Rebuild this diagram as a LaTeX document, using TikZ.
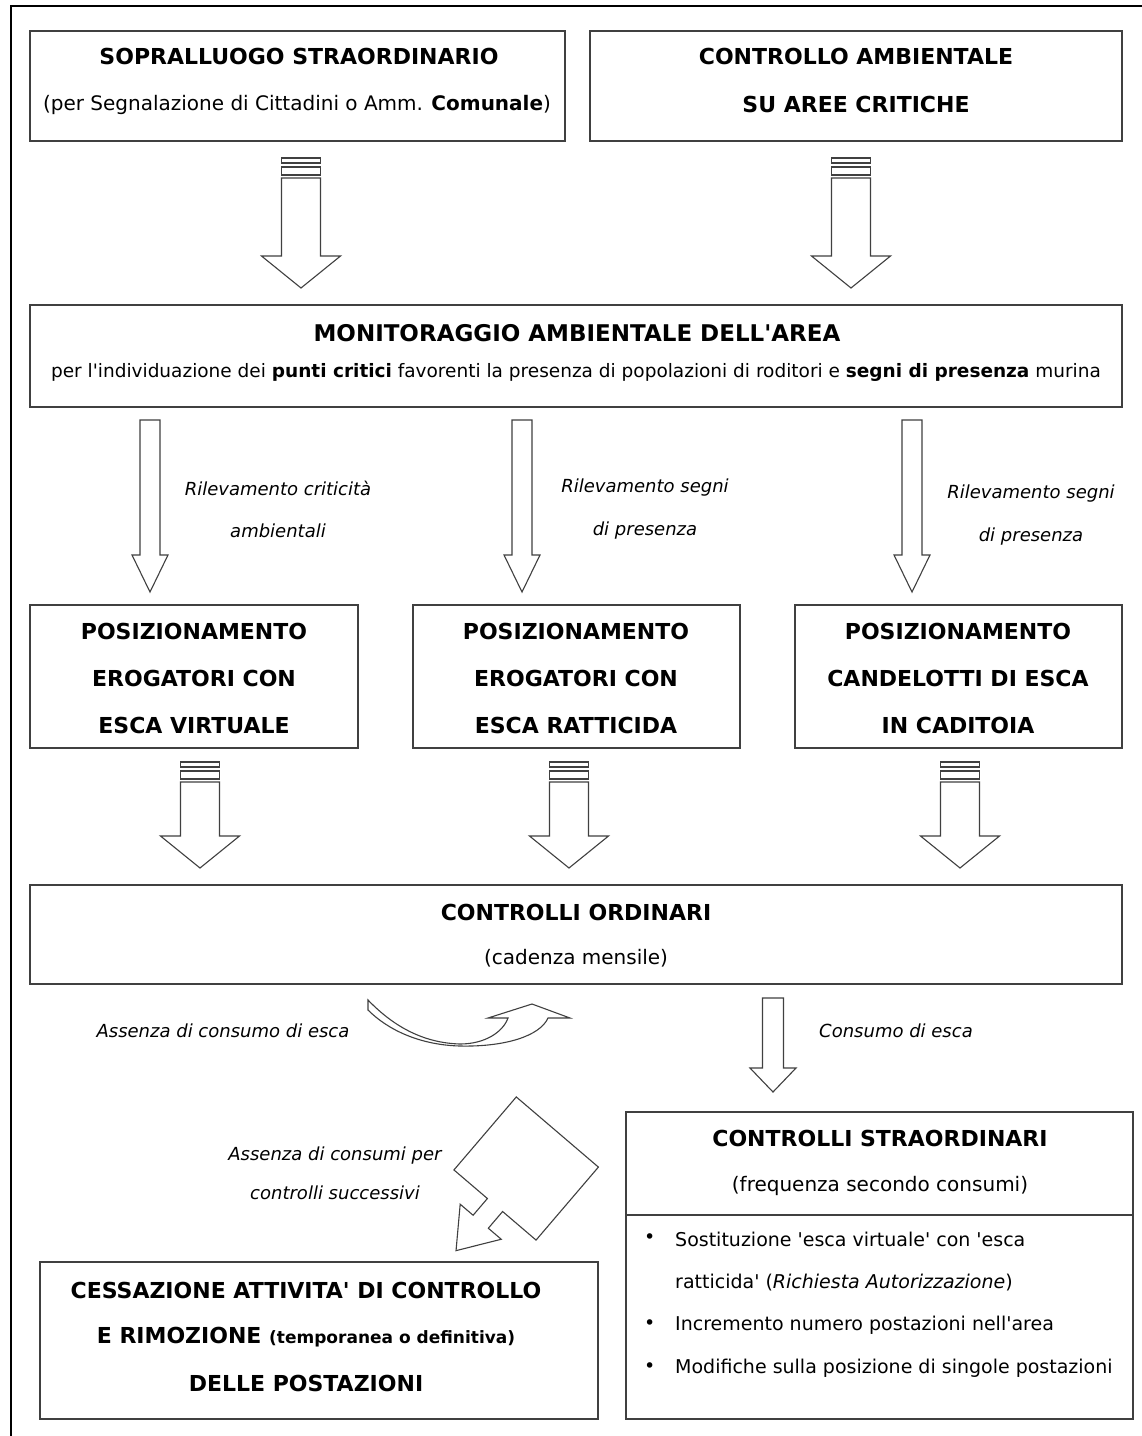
\documentclass[tikz,border=0pt]{standalone}
\usepackage{fontspec}
\setmainfont{DejaVu Sans}
\usetikzlibrary{fit}
\newcommand\sq{\textquotesingle}
\newcommand\StripedArrow[4]{% name, cx, stripe top, tip
  \draw[barrow] ({#2-19.5},{#3}) rectangle ({#2+19.5},{#3+5});
  \draw[barrow] ({#2-19.5},{#3+9}) rectangle ({#2+19.5},{#3+17});
  \draw[barrow] ({#2-19.5},{#3+20}) -- ({#2+19.5},{#3+20}) -- ({#2+19.5},{#4-32})
    -- ({#2+39.5},{#4-32}) -- ({#2},{#4}) coordinate (#1) -- ({#2-39.5},{#4-32})
    -- ({#2-19.5},{#4-32}) -- cycle;}
\newcommand\PlainArrow[7]{% name, cx, top, base, tip, shaft half, head half
  \draw[barrow] ({#2-#6},{#3}) -- ({#2+#6},{#3}) -- ({#2+#6},{#4})
    -- ({#2+#7},{#4}) -- ({#2},{#5}) coordinate (#1) -- ({#2-#7},{#4})
    -- ({#2-#6},{#4}) -- cycle;}
\begin{document}
\begin{tikzpicture}[x=1pt,y=-1pt,
  box/.style={draw=black!75, line width=1.6pt, inner sep=0pt},
  barrow/.style={draw=black!75, line width=1.1pt, fill=white, line join=miter},
  ttl/.style={font=\fontsize{22}{26}\selectfont\bfseries, inner sep=0pt, anchor=center},
  sub/.style={font=\fontsize{20}{24}\selectfont, inner sep=0pt},
  lbl/.style={font=\fontsize{18}{22}\selectfont\itshape, inner sep=0pt},
  itm/.style={font=\fontsize{19}{23}\selectfont, inner sep=0pt, anchor=west},
]
\useasboundingbox (0,0) rectangle (1142,1436);
\fill[white] (0,0) rectangle (1142,1436);
\draw[line width=1.3pt] (11,1436) -- (11,6) -- (1142,6);

% top boxes
\node[box, fit={(30,31) (565,141)}] (b1) {};
\node[ttl] (b1a) at (299,56) {SOPRALLUOGO STRAORDINARIO};
\node[sub] (b1b) at (297,105) {(per Segnalazione di Cittadini o Amm. \textbf{Comunale})};
\node[box, fit={(590,31) (1122,141)}] (b2) {};
\node[ttl] (b2a) at (856,56) {CONTROLLO AMBIENTALE};
\node[ttl] (b2b) at (856,104) {SU AREE CRITICHE};

\StripedArrow{t1}{301}{158}{288}
\StripedArrow{t2}{851}{158}{288}

% monitoraggio
\node[box, fit={(30,305) (1122,407)}] (b3) {};
\node[ttl, font=\fontsize{23}{27}\selectfont\bfseries] (b3a) at (577,333) {MONITORAGGIO AMBIENTALE DELL\sq AREA};
\node[font=\fontsize{18.5}{22}\selectfont, inner sep=0pt] (b3b) at (576,372) {per l\sq individuazione dei \textbf{punti critici} favorenti la presenza di popolazioni di roditori e \textbf{segni di presenza} murina};

\PlainArrow{p1}{150}{420}{555}{592}{10}{18}
\PlainArrow{p2}{522}{420}{555}{592}{10}{18}
\PlainArrow{p3}{912}{420}{555}{592}{10}{18}
\node[lbl] (l1a) at (278,488) {Rilevamento criticità};
\node[lbl] (l1b) at (278,531) {ambientali};
\node[lbl] (l2a) at (645,488) {Rilevamento segni};
\node[lbl] (l2b) at (645,531) {di presenza};
\node[lbl] (l3a) at (1031,494) {Rilevamento segni};
\node[lbl] (l3b) at (1031,537) {di presenza};

% row boxes
\node[box, fit={(30,605) (358,748)}] (b4) {};
\node[ttl] (b4a) at (194,631) {POSIZIONAMENTO};
\node[ttl] (b4b) at (194,678) {EROGATORI CON};
\node[ttl] (b4c) at (194,725) {ESCA VIRTUALE};
\node[box, fit={(413,605) (740,748)}] (b5) {};
\node[ttl] (b5a) at (576,631) {POSIZIONAMENTO};
\node[ttl] (b5b) at (576,678) {EROGATORI CON};
\node[ttl] (b5c) at (576,725) {ESCA RATTICIDA};
\node[box, fit={(795,605) (1122,748)}] (b6) {};
\node[ttl] (b6a) at (958,631) {POSIZIONAMENTO};
\node[ttl] (b6b) at (958,678) {CANDELOTTI DI ESCA};
\node[ttl] (b6c) at (958,725) {IN CADITOIA};

\StripedArrow{r1}{200}{762}{868}
\StripedArrow{r2}{569}{762}{868}
\StripedArrow{r3}{960}{762}{868}

% controlli ordinari
\node[box, fit={(30,885) (1122,984)}] (b7) {};
\node[ttl] (b7a) at (576,912) {CONTROLLI ORDINARI};
\node[sub] (b7b) at (576,958) {(cadenza mensile)};

% U-turn arrow
\draw[barrow] (368,1000) .. controls (395,1028) and (425,1043) .. (460,1044)
  .. controls (485,1044) and (503,1032) .. (508,1018)
  -- (488,1018) -- (532,1004) -- (570,1018) -- (548,1018)
  .. controls (540,1036) and (505,1047) .. (460,1046)
  .. controls (420,1045) and (388,1030) .. (368,1010) -- cycle;
\node[lbl] (u1) at (223,1031) {Assenza di consumo di esca};

\PlainArrow{c1}{773}{998}{1068}{1092}{10.5}{23}
\node[lbl] (c1l) at (896,1031) {Consumo di esca};

% diagonal arrow
\begin{scope}[shift={(495,1205)}, rotate=229.5]
  \draw[barrow] (0,-54) -- (-96,-54) -- (-96,54) -- (0,54) -- (0,10) -- (22,10)
    -- (22,27) -- (60,0) -- (22,-27) -- (22,-10) -- (0,-10) -- cycle;
\end{scope}
\node[lbl] (d1a) at (335,1156) {Assenza di consumi per};
\node[lbl] (d1b) at (335,1193) {controlli successivi};

% controlli straordinari
\node[box, fit={(626,1112) (1133,1419)}] (b8) {};
\draw[draw=black!75, line width=1.3pt] (b8.west |- 0,1215) -- (b8.east |- 0,1215);
\node[ttl] (b8a) at (880,1138) {CONTROLLI STRAORDINARI};
\node[sub] (b8b) at (880,1186) {(frequenza secondo consumi)};
\node[itm] (i1d) at (644,1239) {•};
\node[itm] (i1) at (675,1239) {Sostituzione \sq esca virtuale\sq\ con \sq esca};
\node[itm] (i1c) at (675,1283) {ratticida\sq\ (\textit{Richiesta Autorizzazione})};
\node[itm] (i2d) at (644,1325) {•};
\node[itm] (i2) at (675,1325) {Incremento numero postazioni nell\sq area};
\node[itm] (i3d) at (644,1368) {•};
\node[itm] (i3) at (675,1368) {Modifiche sulla posizione di singole postazioni};

% cessazione
\node[box, fit={(40,1262) (598,1419)}] (b9) {};
\node[ttl] (b9a) at (306,1290) {CESSAZIONE ATTIVITA\sq\ DI CONTROLLO};
\node[ttl] (b9b) at (306,1337) {E RIMOZIONE {\fontsize{17}{20}\selectfont (temporanea o definitiva)}};
\node[ttl] (b9c) at (306,1383) {DELLE POSTAZIONI};
\end{tikzpicture}
\end{document}
